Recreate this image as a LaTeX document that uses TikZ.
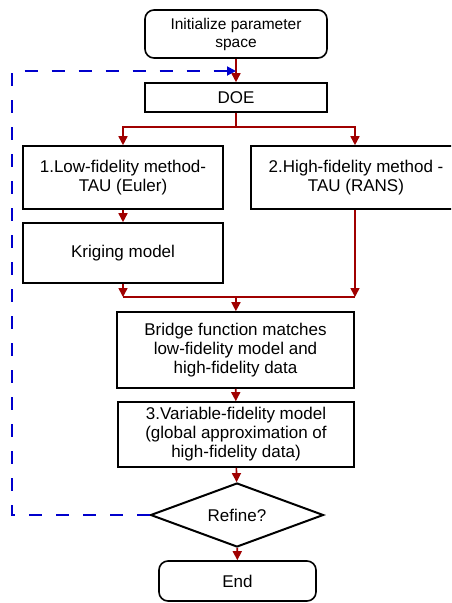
\documentclass[tikz,border=0pt]{standalone}
\usepackage{fontspec}
\setmainfont{Liberation Sans}
\usetikzlibrary{shapes.geometric,arrows.meta}
\definecolor{fred}{HTML}{A00000}
\definecolor{fblue}{HTML}{0000CC}
\begin{document}
\begin{tikzpicture}[x=1pt,y=-1pt,
  box/.style={draw=black,line width=1.6pt,align=center,inner sep=0pt,
    font=\fontsize{17}{19}\selectfont},
  rbox/.style={box,rounded corners=9pt},
  flow/.style={draw=fred,line width=1.6pt,-{Triangle[length=9pt,width=9pt]}},
  fline/.style={draw=fred,line width=1.6pt},
  loopline/.style={draw=fblue,line width=1.8pt,dash pattern=on 13pt off 14pt,-{Triangle[length=9pt,width=9pt]}}]
\clip (0,0) rectangle (451,603);
\node[rbox,minimum width=182pt,minimum height=48pt,font=\fontsize{15.5}{18}\selectfont] (init) at (236,34) {Initialize parameter\\space};
\node[box,minimum width=182pt,minimum height=29pt] (doe) at (236,97.5) {DOE};
\node[box,minimum width=200pt,minimum height=63pt] (b1) at (123,177.5) {1.Low-fidelity method-\\TAU (Euler)};
\node[box,minimum width=210pt,minimum height=63pt] (b2) at (356,177.5) {2.High-fidelity method -\\TAU (RANS)};
\node[box,minimum width=200pt,minimum height=60pt] (krig) at (123,253) {Kriging model};
\node[box,minimum width=237pt,minimum height=76pt] (bridge) at (235.5,350) {Bridge function matches\\low-fidelity model and\\high-fidelity data};
\node[box,minimum width=236pt,minimum height=65pt] (vf) at (236,434.5) {3.Variable-fidelity model\\(global approximation of\\high-fidelity data)};
\node[box,shape=diamond,aspect=2.7,minimum width=173pt,minimum height=64pt,line width=2pt] (ref) at (237,515) {Refine?};
\node[rbox,minimum width=157pt,minimum height=40pt] (end) at (237.5,581) {End};
\coordinate (j1) at (236,127);
\coordinate (j2l) at (123,297);
\coordinate (j2r) at (355,297);
\coordinate (j2) at (236,297);
\coordinate (loopc) at (12,515);
\coordinate (loopt) at (236,71);
\draw[flow] (init) -- (doe);
\draw[fline] (doe) -- (j1);
\draw[flow] (j1) -| (b1);
\draw[flow] (j1) -| (b2.north -| j2r);
\draw[flow] (b1) -- (krig);
\draw[flow] (krig) -- (j2l);
\draw[flow] (b2.south -| j2r) -- (j2r);
\draw[fline] (j2l) -- (j2r);
\draw[flow] (j2) -- (bridge);
\draw[flow] (bridge) -- (vf);
\draw[flow] (vf) -- (ref);
\draw[flow] (ref) -- (end);
\draw[loopline] (ref.west) -- (loopc) |- (loopt);
\end{tikzpicture}
\end{document}
